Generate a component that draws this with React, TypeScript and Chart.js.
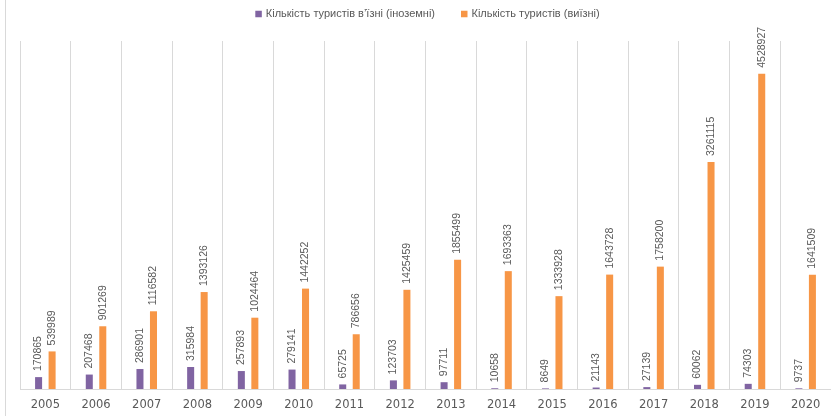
import React, { useEffect, useRef } from "react";
import { Chart, registerables } from "chart.js";

Chart.register(...registerables);

const years = [
  "2005", "2006", "2007", "2008", "2009", "2010", "2011", "2012",
  "2013", "2014", "2015", "2016", "2017", "2018", "2019", "2020",
];

const inbound = [
  170865, 207468, 286901, 315984, 257893, 279141, 65725, 123703,
  97711, 10658, 8649, 21143, 27139, 60062, 74303, 9737,
];

const outbound = [
  539989, 901269, 1116582, 1393126, 1024464, 1442252, 786656, 1425459,
  1855499, 1693363, 1333928, 1643728, 1758200, 3261115, 4528927, 1641509,
];

const seriesNames = [
  "Кількість туристів в’їзні (іноземні)",
  "Кількість туристів (виїзні)",
];

const colors = ["#8064A2", "#F79646"];
const gridColor = "#D9D9D9";
const textColor = "#595959";
const legendFont = "11px 'Liberation Sans'";

// Legend row, rotated value labels above each bar and the outer frame line.
const decorations = {
  id: "decorations",
  beforeDraw(chart: any) {
    const { ctx, height } = chart;
    ctx.save();
    ctx.strokeStyle = gridColor;
    ctx.lineWidth = 1;
    ctx.beginPath();
    ctx.moveTo(5.5, 0);
    ctx.lineTo(5.5, height);
    ctx.stroke();
    ctx.restore();
  },
  afterDraw(chart: any) {
    const { ctx, chartArea } = chart;
    ctx.save();
    ctx.font = legendFont;
    ctx.textBaseline = "middle";
    ctx.textAlign = "left";
    const box = 6.5;
    const boxGap = 4;
    const itemGap = 26;
    const widths = seriesNames.map((n) => ctx.measureText(n).width);
    const total =
      widths.reduce((a, w) => a + w + box + boxGap, 0) + itemGap * (seriesNames.length - 1);
    let x = (chartArea.left + chartArea.right) / 2 - total / 2 + 2;
    const cy = 14;
    seriesNames.forEach((name, i) => {
      ctx.fillStyle = colors[i];
      ctx.fillRect(x, cy - box / 2, box, box);
      x += box + boxGap;
      ctx.fillStyle = textColor;
      ctx.fillText(name, x, cy);
      x += widths[i] + itemGap;
    });
    ctx.restore();
  },
  afterDatasetsDraw(chart: any) {
    const { ctx } = chart;
    ctx.save();
    ctx.font = "10.5px 'Liberation Sans'";
    ctx.fillStyle = textColor;
    ctx.textAlign = "left";
    ctx.textBaseline = "middle";
    chart.data.datasets.forEach((ds: any, di: number) => {
      const meta = chart.getDatasetMeta(di);
      meta.data.forEach((bar: any, i: number) => {
        ctx.save();
        ctx.translate(bar.x, bar.y - 6);
        ctx.rotate(-Math.PI / 2);
        ctx.fillText(String(ds.data[i]), 0, 0);
        ctx.restore();
      });
    });
    ctx.restore();
  },
};

export default function App() {
  const ref = useRef<HTMLCanvasElement>(null);

  useEffect(() => {
    if (!ref.current) return;
    const chart = new Chart(ref.current, {
      type: "bar",
      data: {
        labels: years,
        datasets: [
          {
            label: seriesNames[0],
            data: inbound,
            backgroundColor: colors[0],
            categoryPercentage: 0.533,
            barPercentage: 0.52,
          },
          {
            label: seriesNames[1],
            data: outbound,
            backgroundColor: colors[1],
            categoryPercentage: 0.533,
            barPercentage: 0.52,
          },
        ],
      },
      options: {
        animation: false,
        responsive: false,
        maintainAspectRatio: false,
        layout: { padding: { left: 20, right: 0, top: 41, bottom: 0 } },
        plugins: {
          tooltip: { enabled: false },
          legend: { display: false },
        },
        scales: {
          x: {
            afterFit(scale: any) {
              scale.height = 27;
            },
            grid: {
              display: true,
              offset: true,
              color: gridColor,
              drawTicks: false,
            },
            border: { display: true, color: gridColor },
            ticks: {
              color: textColor,
              padding: 9,
              font: { family: "'DejaVu Sans'", size: 11.5 },
              maxRotation: 0,
            },
          },
          y: {
            display: false,
            min: 0,
            max: 5000000,
          },
        },
      },
      plugins: [decorations],
    });
    return () => chart.destroy();
  }, []);

  return (
    <div style={{ position: "fixed", left: 0, top: 0, width: 831, height: 416, background: "#fff" }}>
      <canvas ref={ref} width={831} height={416} style={{ display: "block" }} />
    </div>
  );
}
